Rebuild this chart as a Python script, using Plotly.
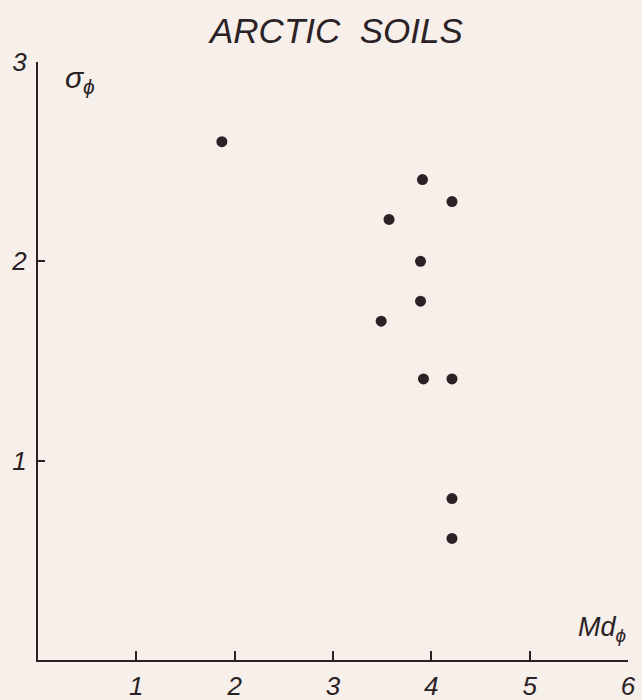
import plotly.graph_objects as go

# Data: median (Md_phi) vs sorting (sigma_phi)
md_phi = [1.87, 3.91, 4.21, 3.57, 3.89, 3.89, 3.49, 3.92, 4.21, 4.21, 4.21]
sigma_phi = [2.60, 2.41, 2.30, 2.21, 2.00, 1.80, 1.70, 1.41, 1.41, 0.81, 0.61]

x_ticks = [1, 2, 3, 4, 5, 6]
y_ticks = [1, 2, 3]

BG = "#f7f0ea"
INK = "#2b2226"
FONT = "Liberation Sans Narrow, Liberation Sans, DejaVu Sans"

fig = go.Figure()
fig.add_trace(go.Scatter(
    x=md_phi, y=sigma_phi, mode="markers",
    marker=dict(size=11, color=INK, line=dict(width=0)),
    hoverinfo="x+y", showlegend=False,
))

fig.update_layout(
    width=642, height=700,
    paper_bgcolor=BG, plot_bgcolor=BG,
    margin=dict(l=38, r=14, t=62, b=40, autoexpand=False),
    xaxis=dict(
        range=[0, 6], tickvals=x_ticks, ticktext=[str(v) for v in x_ticks],
        showline=True, linecolor=INK, linewidth=2,
        ticks="inside", ticklen=9, tickwidth=1.5, tickcolor=INK,
        showgrid=False, zeroline=False, automargin=False,
        tickfont=dict(family=FONT, size=26, color=INK, style="italic"),
        ticklabelstandoff=2,
    ),
    yaxis=dict(
        range=[0, 3], tickvals=y_ticks, ticktext=[str(v) for v in y_ticks],
        showline=True, linecolor=INK, linewidth=2,
        ticks="inside", ticklen=7, tickwidth=1.5, tickcolor=INK,
        showgrid=False, zeroline=False, automargin=False,
        tickfont=dict(family=FONT, size=26, color=INK, style="italic"),
        ticklabelstandoff=4,
    ),
    annotations=[
        dict(text="ARCTIC  SOILS", x=0.505, xref="paper", y=1.0, yref="paper",
             yanchor="bottom", xanchor="center", showarrow=False, yshift=10,
             font=dict(family=FONT, size=35, color=INK, style="italic")),
        dict(text="σ<sub>ϕ</sub>", x=0.043, xref="paper", y=1.0, yref="paper",
             xanchor="left", yanchor="top", showarrow=False, yshift=3,
             font=dict(family=FONT, size=30, color=INK, style="italic")),
        dict(text="Md<sub>ϕ</sub>", x=1.0, xref="paper", y=0.02, yref="paper",
             xanchor="right", yanchor="bottom", showarrow=False,
             font=dict(family=FONT, size=27, color=INK, style="italic")),
    ],
)

fig.write_html(
    "out.html",
    config={"displayModeBar": False},
    post_script=(
        "document.body.style.margin='0';"
        "document.body.style.background='%s';" % BG
    ),
)
